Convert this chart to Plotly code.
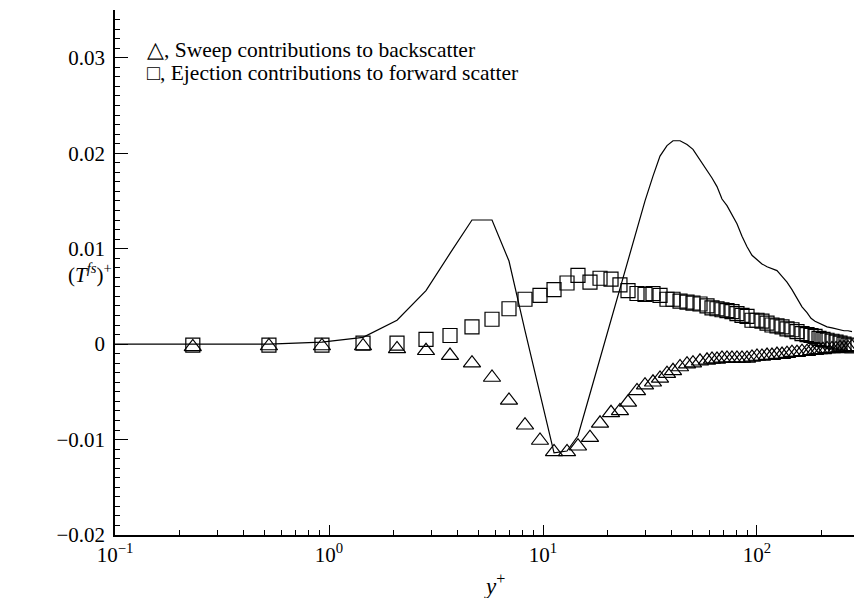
import plotly.graph_objects as go

# wall-normal grid positions (y+) shared by all profiles
y_plus = [0.231, 0.524, 0.927, 1.442, 2.079, 2.840, 3.677, 4.658, 5.777, 6.936,
          8.239, 9.683, 11.26, 12.95, 14.57, 16.58, 18.47, 20.79, 22.89, 24.96,
          27.50, 29.97, 32.66, 35.22, 37.97, 40.51, 43.68, 47.10, 50.22, 54.16,
          58.40, 61.62, 65.03, 68.62, 72.41, 76.40, 80.62, 85.10, 89.82, 94.76,
          100.0, 105.5, 111.4, 117.5, 124.0, 130.9, 138.1, 145.7, 153.8, 162.3,
          171.3, 178.8, 186.7, 194.9, 203.4, 212.4, 224.1, 234.0, 244.3, 255.0,
          266.2, 277.9]

# total (T^fs)+ profile, starting at the first grid point off the wall
line_y_plus = [0.058] + y_plus
total_tfs = [0.0, 0.0, 0.0, 0.0002, 0.0007, 0.0025, 0.0056, 0.0095, 0.0130, 0.0130,
             0.0087, 0.0014, -0.0051, -0.0114, -0.0112, -0.0096, -0.0052, -0.0015,
             0.0026, 0.0059, 0.0088, 0.0121, 0.0150, 0.0176, 0.0197, 0.0208,
             0.0213, 0.0213, 0.0209, 0.0204, 0.0193, 0.0183, 0.0174, 0.0165,
             0.0152, 0.0145, 0.0136, 0.0126, 0.0113, 0.0102, 0.0093, 0.0088,
             0.0084, 0.0081, 0.0079, 0.0077, 0.0071, 0.0065, 0.0057, 0.0048,
             0.0039, 0.0033, 0.0027, 0.0024, 0.0022, 0.0020, 0.0018, 0.0017,
             0.0016, 0.0015, 0.0014, 0.0014, 0.0013]

# sweep contributions to backscatter
sweep_back = [-0.0003, -0.0002, -0.0002, -0.0002, -0.0005, -0.0007, -0.0012, -0.0020,
              -0.0035, -0.0059, -0.0085, -0.0101, -0.0113, -0.0113, -0.0107, -0.0098,
              -0.0083, -0.0072, -0.0070, -0.0061, -0.0049, -0.0043, -0.0040, -0.0036,
              -0.0031, -0.0028, -0.0024, -0.0021, -0.0020, -0.0018, -0.0017, -0.0016,
              -0.0016, -0.0015, -0.0015, -0.0015, -0.0015, -0.0015, -0.0015, -0.0014,
              -0.0013, -0.0013, -0.0012, -0.0012, -0.0011, -0.0011, -0.0010, -0.0009,
              -0.0009, -0.0008, -0.0008, -0.0007, -0.0007, -0.0006, -0.0006, -0.0005,
              -0.0005, -0.0005, -0.0004, -0.0004, -0.0004, -0.0003]

# ejection contributions to forward scatter
eject_fwd = [-0.0001, -0.0001, -0.0001, 0.0001, 0.0001, 0.0005, 0.0009, 0.0018,
             0.0026, 0.0037, 0.0047, 0.0051, 0.0057, 0.0064, 0.0072, 0.0065,
             0.0069, 0.0068, 0.0062, 0.0056, 0.0053, 0.0052, 0.0053, 0.0051,
             0.0047, 0.0047, 0.0045, 0.0044, 0.0043, 0.0042, 0.0040, 0.0038,
             0.0037, 0.0036, 0.0035, 0.0034, 0.0032, 0.0030, 0.0029, 0.0025,
             0.0025, 0.0024, 0.0022, 0.0020, 0.0019, 0.0018, 0.0016, 0.0015,
             0.0013, 0.0011, 0.0010, 0.0009, 0.0008, 0.0006, 0.0005, 0.0004,
             0.0003, 0.0002, 0.0001, 0.0000, -0.0001, -0.0002]

x_tick_vals = [0.1, 1, 10, 100]
x_tick_text = ["10<sup>\u22121</sup>", "10<sup>0</sup>", "10<sup>1</sup>", "10<sup>2</sup>"]

legend_lines = ["\u25b3, Sweep contributions to backscatter",
                "\u25a1, Ejection contributions to forward scatter"]

FONT = "Liberation Serif"

fig = go.Figure()
fig.add_trace(go.Scatter(x=line_y_plus, y=total_tfs, mode="lines",
                         line=dict(color="black", width=1.2), showlegend=False))
fig.add_trace(go.Scatter(x=y_plus, y=eject_fwd, mode="markers",
                         marker=dict(symbol="square-open", size=14, color="black",
                                     line=dict(width=1.2, color="black")),
                         showlegend=False))
fig.add_trace(go.Scatter(x=y_plus, y=sweep_back, mode="markers",
                         marker=dict(symbol="triangle-up-open", size=15, color="black",
                                     line=dict(width=1.2, color="black")),
                         showlegend=False))

fig.update_xaxes(
    type="log", range=[-1, 2.4533],
    tickvals=x_tick_vals, ticktext=x_tick_text,
    showline=True, linecolor="black", linewidth=1.5, mirror=False,
    ticks="inside", ticklen=10, tickwidth=1.2, tickcolor="black",
    showgrid=False, zeroline=False,
    tickfont=dict(family=FONT, size=21, color="black"),
    minor=dict(ticks="inside", ticklen=5, tickwidth=1, tickcolor="black",
               dtick="D1", showgrid=False),
)
fig.update_yaxes(
    range=[-0.02, 0.035], dtick=0.01, tick0=0,
    showline=True, linecolor="black", linewidth=1.5, mirror=False,
    ticks="inside", ticklen=13, tickwidth=1.2, tickcolor="black",
    showgrid=False, zeroline=False, ticklabelstandoff=4,
    tickfont=dict(family=FONT, size=21, color="black"),
    minor=dict(ticks="inside", ticklen=5, tickwidth=1, tickcolor="black",
               dtick=0.001, showgrid=False),
)

annotations = [
    dict(text="(<i>T</i><sup><i>fs</i></sup>)<sup>+</sup>", xref="paper", yref="paper",
         x=-0.066, y=0.499, xanchor="left", yanchor="middle", showarrow=False,
         font=dict(family=FONT, size=21, color="black")),
    dict(text="<i>y</i><sup>+</sup>", xref="paper", yref="paper",
         x=0.514, y=-0.095, xanchor="center", yanchor="middle", showarrow=False,
         font=dict(family=FONT, size=23, color="black")),
]
for i, txt in enumerate(legend_lines):
    annotations.append(dict(text=txt, xref="paper", yref="paper",
                            x=0.0406, y=0.9238 - i * 0.0438,
                            xanchor="left", yanchor="middle", showarrow=False,
                            font=dict(family=FONT, size=21.5, color="black")))

fig.update_layout(
    width=854, height=598,
    margin=dict(l=115, r=0, t=10, b=63),
    paper_bgcolor="white", plot_bgcolor="white",
    annotations=annotations,
    font=dict(family=FONT, color="black"),
)

fig.write_html("out.html")
